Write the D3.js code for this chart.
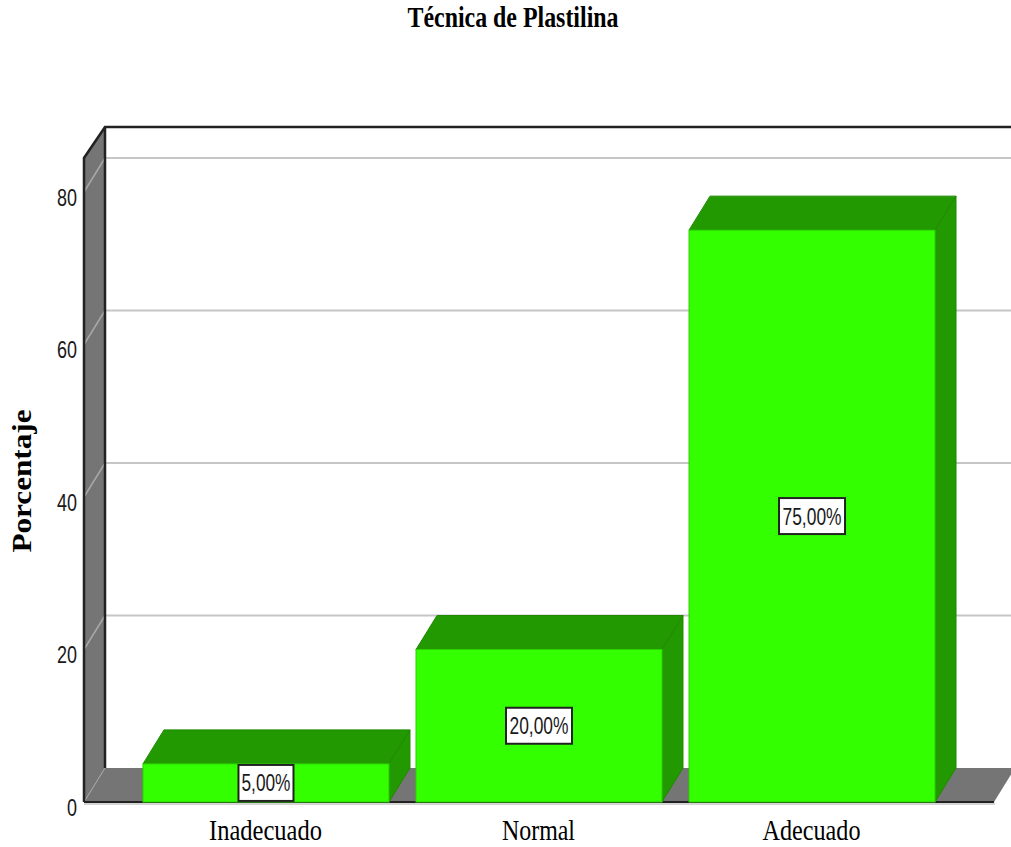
<!DOCTYPE html>
<html>
  <head>
    <meta charset="utf-8">
    <script src="https://d3js.org/d3.v7.min.js"></script>
    <style>
      html, body { margin: 0; padding: 0; background: #fff; }
      svg { display: block; }
      .serif { font-family: "Liberation Serif", serif; fill: #000; }
      .sans { font-family: "Liberation Sans", sans-serif; fill: #1a1a1a; }
    </style>
  </head>
  <body>
    <script>
      var categories = ["Inadecuado", "Normal", "Adecuado"];
      var percentages = [5, 20, 75];
      var barLabels = ["5,00%", "20,00%", "75,00%"];
      var yTicks = [0, 20, 40, 60, 80];

      var width = 1011, height = 847;
      var dx = 21, dy = -34;
      var left = 84, right = 994, bottom = 802;
      var topFront = 158, topBack = 127;

      var svg = d3.select("body").append("svg")
        .attr("width", width)
        .attr("height", height);

      var x = d3.scaleBand()
        .domain(categories)
        .range([left, right])
        .paddingInner(0.099)
        .paddingOuter(0.216);

      var y = d3.scaleLinear()
        .domain([0, 80])
        .range([bottom, bottom - 610]);

      function pts(list) {
        return list.map(function(p) { return p.join(","); }).join(" ");
      }

      // floor and left wall
      svg.append("polygon")
        .attr("points", pts([[left, bottom], [right, bottom], [right + dx, bottom + dy], [left + dx, bottom + dy]]))
        .attr("fill", "#757575");
      svg.append("polygon")
        .attr("points", pts([[left, bottom], [left + dx, bottom + dy], [left + dx, topBack], [left, topFront]]))
        .attr("fill", "#757575");

      // gridlines, back wall and side wall
      var grid = svg.append("g");
      grid.selectAll(".back").data(yTicks.slice(1)).enter().append("line")
        .attr("class", "back")
        .attr("x1", left + dx).attr("x2", width)
        .attr("y1", function(d) { return y(d) + dy; })
        .attr("y2", function(d) { return y(d) + dy; })
        .attr("stroke", "#c6c6c6").attr("stroke-width", 2);
      grid.selectAll(".side").data(yTicks.slice(1)).enter().append("line")
        .attr("class", "side")
        .attr("x1", left).attr("x2", left + dx)
        .attr("y1", function(d) { return y(d); })
        .attr("y2", function(d) { return y(d) + dy; })
        .attr("stroke", "#a8a8a8").attr("stroke-width", 1.5);
      svg.append("line")
        .attr("x1", left).attr("x2", left + dx)
        .attr("y1", bottom).attr("y2", bottom + dy)
        .attr("stroke", "#a8a8a8").attr("stroke-width", 1);

      // dark frame
      svg.append("path")
        .attr("d", "M" + left + "," + bottom + "V" + topFront + "L" + (left + dx) + "," + topBack + "H" + width)
        .attr("fill", "none").attr("stroke", "#222").attr("stroke-width", 2.5);
      svg.append("path")
        .attr("d", "M" + (left + dx) + "," + topBack + "V" + (bottom + dy))
        .attr("fill", "none").attr("stroke", "#222").attr("stroke-width", 2.5);
      svg.append("line")
        .attr("x1", left).attr("x2", right)
        .attr("y1", bottom).attr("y2", bottom)
        .attr("stroke", "#222").attr("stroke-width", 2);
      svg.append("line")
        .attr("x1", left).attr("x2", right + 1)
        .attr("y1", bottom + 2).attr("y2", bottom + 2)
        .attr("stroke", "#c6c6c6").attr("stroke-width", 1.5);

      // bars
      var bars = svg.selectAll(".bar")
        .data(categories)
        .enter().append("g")
        .attr("class", "bar");

      function val(i) { return percentages[i]; }

      bars.append("polygon")
        .attr("points", function(d, i) {
          var x0 = x(d), x1 = x0 + x.bandwidth(), t = y(val(i));
          return pts([[x0, t], [x1, t], [x1 + dx, t + dy], [x0 + dx, t + dy]]);
        })
        .attr("fill", "#229900").attr("stroke", "#1f8a00").attr("stroke-width", 1);
      bars.append("polygon")
        .attr("points", function(d, i) {
          var x1 = x(d) + x.bandwidth(), t = y(val(i));
          return pts([[x1, t], [x1 + dx, t + dy], [x1 + dx, bottom + dy], [x1, bottom]]);
        })
        .attr("fill", "#229900").attr("stroke", "#1f8a00").attr("stroke-width", 1);
      bars.append("rect")
        .attr("x", function(d) { return x(d); })
        .attr("y", function(d, i) { return y(val(i)); })
        .attr("width", x.bandwidth())
        .attr("height", function(d, i) { return bottom - y(val(i)); })
        .attr("fill", "#33ff00").attr("stroke", "#2ad000").attr("stroke-width", 1);

      // value labels
      var labels = svg.selectAll(".value")
        .data(barLabels)
        .enter().append("g")
        .attr("class", "value")
        .attr("transform", function(d, i) {
          return "translate(" + (x(categories[i]) + x.bandwidth() / 2) + "," +
            (y(val(i)) + bottom) / 2 + ")";
        });
      labels.append("rect")
        .attr("x", function(d) { return d.length > 5 ? -33 : -27.5; })
        .attr("width", function(d) { return d.length > 5 ? 66 : 55; })
        .attr("y", -18).attr("height", 36)
        .attr("fill", "#fff").attr("stroke", "#222").attr("stroke-width", 2);
      labels.append("text")
        .attr("class", "sans")
        .attr("text-anchor", "middle")
        .attr("y", 8.5)
        .attr("font-size", 24)
        .attr("textLength", function(d) { return d.length > 5 ? 59 : 49; })
        .attr("lengthAdjust", "spacingAndGlyphs")
        .text(function(d) { return d; });

      // y axis tick labels through d3 axis
      var axis = svg.append("g")
        .attr("transform", "translate(" + left + ",0)")
        .call(d3.axisLeft(y).tickValues(yTicks).tickSize(0).tickPadding(7));
      axis.select(".domain").remove();
      axis.selectAll("text")
        .attr("class", "sans")
        .attr("dy", 0)
        .attr("y", 13)
        .attr("textLength", function(d) { return d === 0 ? 10 : 20; })
        .attr("lengthAdjust", "spacingAndGlyphs")
        .style("font-family", '"Liberation Sans", sans-serif')
        .style("font-size", "24px");

      // category labels
      var catWidths = [113, 73, 98];
      svg.selectAll(".cat")
        .data(categories)
        .enter().append("text")
        .attr("class", "cat serif")
        .attr("x", function(d) { return x(d) + x.bandwidth() / 2 - 0.5; })
        .attr("y", 840)
        .attr("text-anchor", "middle")
        .attr("font-size", 30)
        .attr("textLength", function(d, i) { return catWidths[i]; })
        .attr("lengthAdjust", "spacingAndGlyphs")
        .text(function(d) { return d; });

      svg.append("text")
        .attr("class", "serif")
        .attr("x", 513).attr("y", 27)
        .attr("text-anchor", "middle")
        .attr("font-size", 30)
        .attr("font-weight", "bold")
        .attr("textLength", 211)
        .attr("lengthAdjust", "spacingAndGlyphs")
        .text("Técnica de Plastilina");

      svg.append("text")
        .attr("class", "serif")
        .attr("transform", "translate(31,481) rotate(-90)")
        .attr("text-anchor", "middle")
        .attr("font-size", 27)
        .attr("font-weight", "bold")
        .attr("textLength", 143)
        .attr("lengthAdjust", "spacingAndGlyphs")
        .text("Porcentaje");
    </script>
  </body>
</html>
